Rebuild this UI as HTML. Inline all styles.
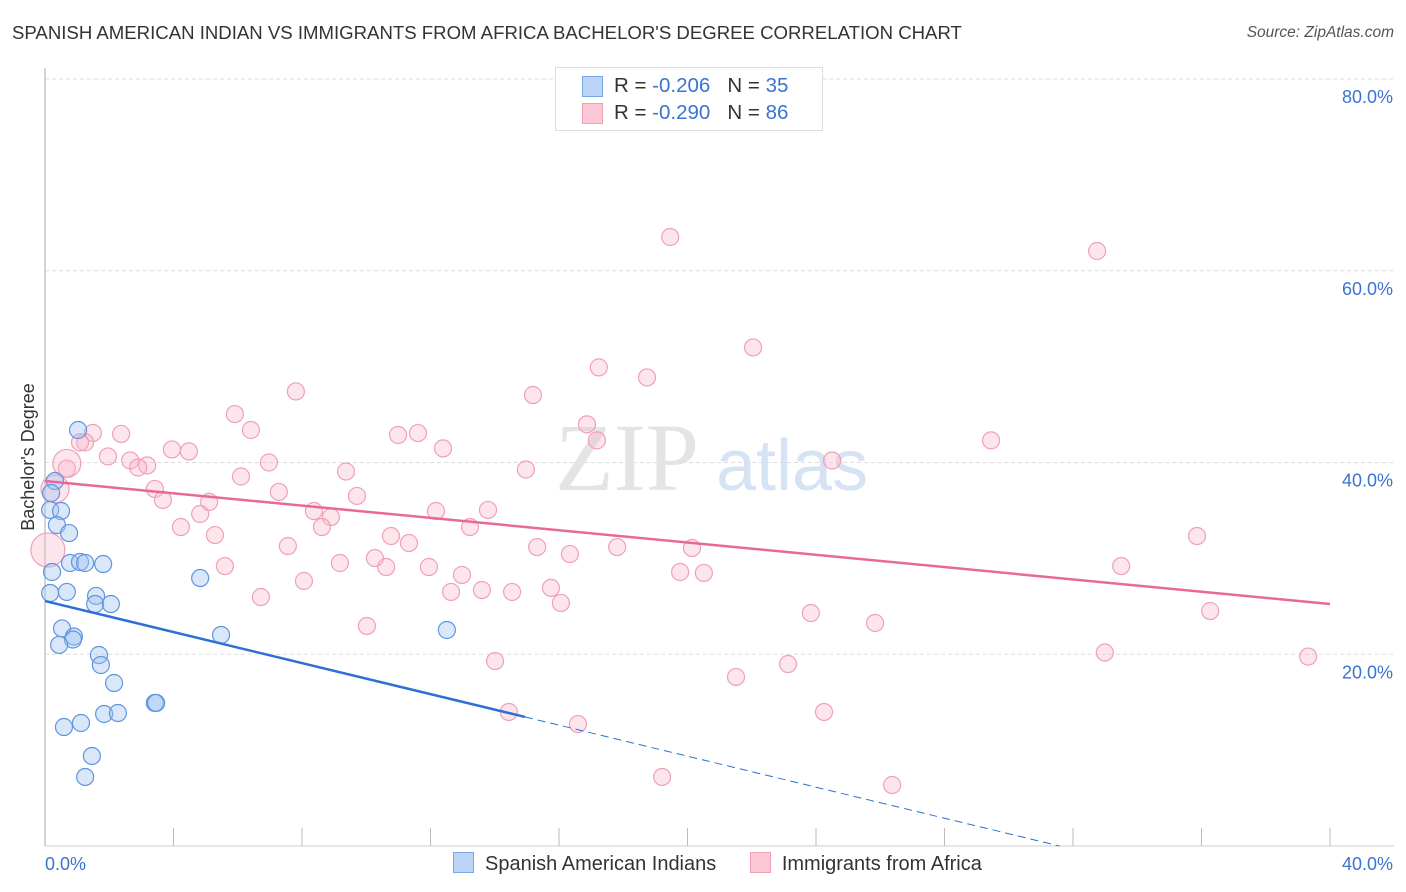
<!DOCTYPE html>
<html><head><meta charset="utf-8"><style>
body{margin:0;background:#fff;font-family:"Liberation Sans",sans-serif}
#w{position:relative;width:1406px;height:892px;overflow:hidden}
</style></head><body>
<div id="w">
<div style="position:absolute;left:12px;top:22px;font-size:18.6px;color:#333">SPANISH AMERICAN INDIAN VS IMMIGRANTS FROM AFRICA BACHELOR'S DEGREE CORRELATION CHART</div>
<div style="position:absolute;right:12px;top:24px;font-size:15.5px;color:#555;font-style:italic">Source: ZipAtlas.com</div>
<svg id="s" width="1406" height="892" style="position:absolute;left:0;top:0"></svg>
</div>
<script>
const blueX=[0.31,0.19,0.16,0.50,0.37,0.75,0.22,0.78,1.09,1.25,1.81,0.16,0.68,1.59,1.56,2.05,4.83,0.53,0.90,0.87,5.48,12.51,1.68,1.74,0.44,2.15,3.42,3.46,1.12,0.59,1.84,2.27,1.46,1.25,1.03];
const blueY=[38.07,36.82,35.05,34.94,33.48,32.64,28.58,29.52,29.62,29.52,29.41,26.39,26.50,26.08,25.24,25.24,27.95,22.69,21.85,21.54,22.01,22.53,19.92,18.88,20.97,17.00,14.92,14.92,12.83,12.41,13.77,13.87,9.39,7.20,43.39];
const pinkX=[19.46,32.75,22.04,17.24,18.74,7.81,15.19,5.91,6.41,11.61,10.99,1.49,2.37,16.87,17.18,29.45,12.39,3.95,4.48,1.25,1.96,2.65,3.18,2.90,0.68,14.97,24.50,9.37,6.97,6.10,3.42,7.28,3.67,5.11,9.71,13.79,12.17,8.37,8.90,4.83,4.23,13.23,8.62,5.29,10.77,35.86,11.33,15.32,17.81,20.14,7.56,10.27,16.34,9.18,10.62,11.95,5.60,33.50,12.98,19.77,20.51,8.06,15.75,13.60,14.54,12.64,6.72,16.06,36.27,23.84,25.84,10.02,32.99,39.32,14.01,23.13,21.51,14.44,24.25,16.59,19.21,26.37,0.09,0.31,0.68,1.09];
const pinkY=[63.52,62.06,52.00,49.92,48.87,47.41,47.04,45.05,43.39,43.07,42.87,43.08,42.98,43.98,42.31,42.31,41.47,41.36,41.16,42.10,40.63,40.21,39.69,39.48,39.37,39.27,40.21,39.06,40.00,38.54,37.24,36.93,36.10,35.89,36.51,35.05,34.94,34.94,34.31,34.63,33.27,33.27,33.27,32.43,32.33,32.33,31.60,31.18,31.18,31.08,31.29,30.03,30.45,29.52,29.10,29.10,29.20,29.20,28.27,28.58,28.48,27.64,26.92,26.70,26.50,26.50,25.97,25.35,24.51,24.30,23.26,22.95,20.18,19.76,19.29,18.98,17.63,13.98,13.98,12.72,7.20,6.36,30.87,37.24,39.90,42.10];
const xTicks=[0,4,8,12,16,20,24,28,32,36,40];
const yTicks=[20,40,60,80];
const pinkFit=[38.07,25.24];
const blueFit=[25.55,-0.809];
const X=v=>45+v*32.125, Y=v=>846-v*9.5875;
const s=document.getElementById('s');
function el(t,a){const e=document.createElementNS('http://www.w3.org/2000/svg',t);for(const k in a)e.setAttribute(k,a[k]);s.appendChild(e);return e;}
yTicks.forEach(t=>{const l=el('line',{x1:45,x2:1394,y1:Y(t),y2:Y(t),stroke:'#ddd','stroke-dasharray':'4,3'});


const tx=el('text',{x:1393,y:Y(t)+24,'text-anchor':'end','font-size':18,fill:'#3b73d1','font-family':'Liberation Sans'});tx.textContent=t.toFixed(1)+'%';

});
const ax=el('line',{x1:45,x2:45,y1:68,y2:846,stroke:'#aaa'});


const bx=el('line',{x1:45,x2:1394,y1:846,y2:846,stroke:'#ccc'});


xTicks.forEach(t=>{if(t===0)return;const l=el('line',{x1:X(t),x2:X(t),y1:828,y2:846,stroke:'#bbb'});

});
[['0.0%',45,'start'],['40.0%',1393,'end']].forEach(([t,x,a])=>{const tx=el('text',{x:x,y:870,'text-anchor':a,'font-size':18,fill:'#3b73d1','font-family':'Liberation Sans'});tx.textContent=t;

});
const yt=el('text',{x:34,y:457,'text-anchor':'middle','font-size':18,fill:'#333',transform:'rotate(-90 34 457)','font-family':'Liberation Sans'});yt.textContent="Bachelor's Degree";


const wm=el('text',{x:555,y:490,'font-size':96,fill:'#e4e4e4','font-family':'Liberation Serif'});wm.textContent='ZIP';


const wm2=el('text',{x:716,y:490,'font-size':72,fill:'#d6e3f5','font-family':'Liberation Sans'});wm2.textContent='atlas';


const big={82:17,83:14,84:14};
pinkX.forEach((x,i)=>{const c=el('circle',{cx:X(x),cy:Y(pinkY[i]),r:big[i]||8.5,fill:'rgba(248,180,200,0.35)',stroke:'#f0a0b8','stroke-width':1.2});

});
blueX.forEach((x,i)=>{const c=el('circle',{cx:X(x),cy:Y(blueY[i]),r:8.5,fill:'rgba(160,195,240,0.4)',stroke:'#5f95e0','stroke-width':1.2});

});
const pl=el('line',{x1:X(0),y1:Y(pinkFit[0]),x2:X(40),y2:Y(pinkFit[1]),stroke:'#e8689a','stroke-width':2.5});


const xe=14.94,xz=-blueFit[0]/blueFit[1];
const bl=el('line',{x1:X(0),y1:Y(blueFit[0]),x2:X(xe),y2:Y(blueFit[0]+blueFit[1]*xe),stroke:'#2e6fd6','stroke-width':2.5});


const bd=el('line',{x1:X(xe),y1:Y(blueFit[0]+blueFit[1]*xe),x2:X(xz),y2:Y(0),stroke:'#2e6fd6','stroke-width':1,'stroke-dasharray':'8,5'});


</script>
<div style="position:absolute;left:555px;top:67px;width:266px;height:62px;border:1px solid #ddd;background:#fff;font-size:20.5px;color:#333">
<div style="position:absolute;left:26px;top:8px;width:19px;height:19px;background:#bcd4f6;border:1px solid #7aa6e6"></div>
<div style="position:absolute;left:58px;top:6px">R = <span style="color:#3b73d1">-0.206</span>&nbsp;&nbsp;&nbsp;N = <span style="color:#3b73d1">35</span></div>
<div style="position:absolute;left:26px;top:35px;width:19px;height:19px;background:#fcc8d6;border:1px solid #f0a0b8"></div>
<div style="position:absolute;left:58px;top:33px">R = <span style="color:#3b73d1">-0.290</span>&nbsp;&nbsp;&nbsp;N = <span style="color:#3b73d1">86</span></div>
</div>
<div style="position:absolute;left:453px;top:852px;font-size:20px;color:#333;white-space:nowrap">
<span><span style="display:inline-block;width:19px;height:19px;background:#bcd4f6;border:1px solid #7aa6e6;vertical-align:-3px;margin-right:11px"></span>Spanish American Indians</span>
<span style="margin-left:28px"><span style="display:inline-block;width:19px;height:19px;background:#fcc8d6;border:1px solid #f0a0b8;vertical-align:-3px;margin-right:11px"></span>Immigrants from Africa</span>
</div>
</body></html>
